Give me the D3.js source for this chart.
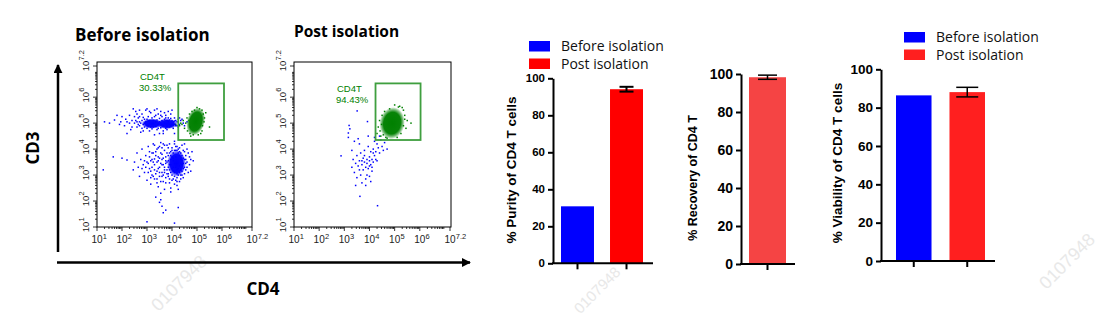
<!DOCTYPE html>
<html>
<head>
<meta charset="utf-8">
<script src="https://cdn.jsdelivr.net/npm/d3@7"></script>
<style>
  body { margin: 0; background: #fff; }
  svg { display: block; }
</style>
</head>
<body>
<svg id="fig" width="1108" height="322"></svg>
<script>
// ---------- Flow cytometry events (log10 units: [CD4, CD3]) ----------
const beforeBlueEvents = [
  // CD3+ band
  [1.3,5.05],[1.5,5.0],[1.7,5.12],[1.8,5.3],[1.9,4.95],[2.0,5.25],[2.1,4.9],[2.2,5.05],[2.2,4.6],[2.3,5.3],
  [2.35,4.75],[2.4,5.1],[2.45,5.55],[2.5,5.0],[2.55,5.45],[2.6,4.85],[2.6,5.35],[2.65,5.2],[2.7,5.05],[2.75,4.65],
  [2.8,5.35],[2.85,4.95],[2.9,5.15],[2.95,5.5],[3.0,4.8],[3.0,5.55],[3.05,5.25],[3.1,4.7],[3.15,5.4],[3.2,5.2],
  [3.25,4.85],[3.3,5.5],[3.3,4.55],[3.35,5.3],[3.4,4.75],[3.4,5.55],[3.45,5.35],[3.5,4.6],[3.55,5.45],[3.6,5.25],
  [3.65,4.7],[3.7,5.4],[3.75,5.3],[3.8,4.75],[3.85,5.2],[3.9,4.85],[3.95,5.35],[4.0,5.1],[4.05,4.8],[4.1,5.2],
  [4.1,4.6],[4.15,4.9],[4.2,5.05],[4.25,5.15],[4.3,4.95],[4.35,5.1],[4.45,5.0],[4.6,5.05],[2.7,4.9],[2.8,5.1],
  [2.9,4.85],[2.95,5.05],[3.0,5.15],[3.05,4.9],[3.1,5.1],[3.35,4.88],[3.4,5.12],[3.5,5.18],[3.55,4.82],[3.6,5.1],
  [3.65,4.9],[3.7,5.15],[3.85,5.05],[3.9,5.12],[3.95,4.92],[4.0,4.95],[4.05,5.05],[4.15,5.1],[2.75,5.0],[3.25,5.1],
  [3.45,4.8],[3.8,4.88],[4.1,4.95],[3.2,4.78],[2.85,5.22],[3.55,5.3],[3.75,4.8],[4.25,4.85],[2.55,5.1],[2.65,4.95],
  [2.4,4.85],[2.5,5.25],[2.6,5.05],[2.7,5.25],[2.8,4.8],[2.9,5.0],[3.0,4.92],[3.05,5.08],[3.15,4.85],[3.25,5.0],
  [3.3,5.25],[3.35,5.05],[3.45,4.95],[3.5,5.05],[3.6,4.95],[3.7,5.0],[3.75,5.2],[3.8,5.1],[3.9,4.95],[3.95,5.18],
  [4.05,4.92],[4.1,5.08],[4.2,4.9],[4.3,5.2],[4.4,5.15],[4.5,4.9],[2.3,5.0],[2.15,5.15],[1.95,5.05],[2.85,4.7],
  [3.65,4.6],[3.1,5.45],[3.85,5.45],[4.0,5.5],[2.7,5.5],
  // CD3 low / CD4 mid cluster
  [1.25,3.2],[1.65,3.7],[2.0,3.65],[2.2,3.58],[2.45,3.2],[2.5,3.5],[2.6,3.85],[2.65,3.3],[2.7,2.95],[2.75,3.6],
  [2.8,4.0],[2.85,3.4],[2.9,3.1],[2.95,3.75],[3.0,2.8],[3.0,3.5],[3.05,4.1],[3.1,3.25],[3.1,3.9],[3.15,2.65],
  [3.2,3.6],[3.2,3.0],[3.25,4.2],[3.3,3.4],[3.3,2.85],[3.35,3.75],[3.4,3.15],[3.4,4.0],[3.45,2.55],[3.45,3.55],
  [3.5,3.3],[3.5,2.95],[3.55,3.85],[3.55,4.25],[3.6,3.1],[3.6,3.6],[3.65,2.75],[3.65,3.4],[3.7,3.95],[3.7,3.2],
  [3.75,2.9],[3.75,3.7],[3.8,3.5],[3.8,4.15],[3.85,3.05],[3.85,3.3],[3.9,2.7],[3.9,3.85],[3.95,3.6],[3.95,2.5],
  [4.0,3.0],[4.0,4.05],[4.05,2.85],[4.05,3.3],[4.1,4.2],[4.1,2.65],[4.15,3.95],[4.2,2.9],[4.2,4.1],[4.25,3.0],
  [4.3,3.9],[4.3,2.75],[4.35,3.2],[4.4,3.75],[4.4,4.15],[4.45,3.45],[4.5,3.05],[4.5,3.9],[4.55,3.6],[4.6,4.0],
  [4.6,3.3],[4.7,3.7],[4.75,3.15],[4.85,3.55],[4.45,2.9],[4.2,2.6],[3.95,2.35],[3.55,2.3],[3.7,2.45],[4.25,2.45],
  [3.3,3.62],[3.45,3.25],[3.55,3.45],[3.6,3.8],[3.7,3.3],[3.75,3.55],[3.8,3.2],[3.85,3.75],[3.9,3.4],[3.95,3.1],
  [3.95,3.9],[4.0,3.25],[4.0,3.7],[4.05,3.55],[4.05,3.85],[4.1,3.1],[4.1,3.45],[4.15,3.7],[4.2,3.2],[4.25,3.85],
  [4.3,3.35],[4.35,3.6],[4.35,3.0],[4.4,3.4],[4.45,3.65],[4.5,3.3],[4.55,3.45],[3.4,3.5],[3.5,3.65],[3.65,3.0],
  [3.2,3.3],[3.15,3.55],[2.95,3.3],[3.35,3.05],[3.85,2.95],[4.3,4.05],[3.6,4.05],[3.25,3.85],[4.15,2.8],[4.4,3.15],
  [3.05,3.45],[3.1,3.7],[3.15,3.15],[3.2,3.85],[3.25,2.95],[3.25,3.5],[3.3,3.2],[3.35,3.9],[3.4,2.85],[3.45,3.7],
  [3.5,3.1],[3.5,4.1],[3.55,2.75],[3.6,3.4],[3.6,2.95],[3.65,3.65],[3.7,3.1],[3.7,4.15],[3.75,3.45],[3.75,2.7],
  [3.8,3.05],[3.8,3.85],[3.85,3.55],[3.85,4.05],[3.9,3.2],[3.9,2.85],[3.95,3.75],[3.95,3.4],[4.0,2.8],[4.0,3.95],
  [4.05,3.15],[4.05,3.65],[4.1,3.95],[4.1,2.95],[4.15,3.3],[4.15,4.1],[4.2,3.05],[4.2,3.95],[4.25,3.25],[4.25,4.0],
  [4.3,3.1],[4.3,3.75],[4.35,3.45],[4.35,3.85],[4.4,3.0],[4.4,3.55],[4.45,3.25],[4.45,3.95],[4.5,3.6],[4.55,3.2],
  [4.55,3.75],[4.6,3.5],[4.65,3.85],[4.65,3.1],[4.7,3.4],[4.75,3.6],[4.8,3.9],[4.2,2.75],[4.35,2.85],[3.45,4.05],
  [3.3,4.15],[3.05,3.1],[2.9,3.55],[2.8,3.25],[3.15,2.9],[3.4,2.7],[4.5,4.2],[4.1,4.3],[3.9,4.2],[3.65,4.2],
  // low CD3 tail
  [3.5,1.95],[3.55,2.05],[3.65,1.55],[3.75,1.65],[3.0,1.2],[4.1,1.15],[3.6,1.8],[4.25,1.75],[3.35,2.15]
];
const beforeGreenEvents = [
  [4.15,4.95],[4.25,5.05],[4.3,4.9],[4.35,5.0],[4.4,4.95],[4.45,5.1],[4.5,4.8],[4.55,5.0],[4.6,5.2],[4.62,4.7],
  [4.7,5.35],[4.72,4.6],[4.8,5.45],[4.85,4.55],[4.9,5.5],[5.0,5.6],[5.1,5.55],[5.15,4.6],[5.2,5.5],[5.2,4.7],
  [5.25,5.35],[5.28,5.05],[5.3,5.2],[5.35,5.4],[5.5,4.85],[4.75,4.5],[5.05,4.55],[4.68,5.1],[4.72,4.85],[5.22,4.9]
];
const postBlueEvents = [
  [2.87,3.74],[3.16,4.45],[3.16,4.62],[3.22,4.78],[3.19,4.91],[3.51,5.47],[3.92,5.06],[3.62,2.18],[4.32,1.82],
  [3.3,3.3],[3.35,3.6],[3.4,3.1],[3.45,3.45],[3.5,2.9],[3.5,3.75],[3.55,3.35],[3.6,4.2],[3.6,3.55],[3.65,3.0],
  [3.65,3.85],[3.7,3.4],[3.7,2.7],[3.75,3.65],[3.75,3.2],[3.8,3.95],[3.8,3.5],[3.85,3.3],[3.85,2.85],[3.9,3.6],
  [3.9,3.45],[3.95,4.1],[3.95,3.25],[4.0,3.55],[4.0,3.7],[4.05,3.4],[4.05,3.9],[4.1,3.6],[4.1,3.15],[4.15,4.0],
  [4.15,3.5],[4.2,3.75],[4.2,4.3],[4.25,3.9],[4.3,3.55],[4.3,4.2],[4.35,4.05],[4.4,3.85],[4.45,4.35],[4.5,4.1],
  [4.55,3.95],[4.6,4.25],[4.7,4.0],[4.0,2.95],[3.85,2.6],[4.05,2.75],[3.55,4.4],[3.4,4.3],[3.95,4.5],[4.2,4.45],
  [4.4,4.5],[3.3,3.95],[3.45,2.6],[3.6,3.2],[3.9,3.0],[4.1,3.3],[3.8,3.75],[4.0,3.35],[4.25,3.6],[3.7,3.55],[4.15,3.85]
];
const postGreenEvents = [
  [4.3,4.6],[4.35,4.85],[4.4,5.1],[4.45,4.5],[4.5,5.3],[4.55,4.55],[5.35,5.5],[5.4,5.3],[5.2,5.65],[5.3,5.6],
  [5.5,5.1],[5.65,5.0],[5.1,4.45],[5.25,4.6],[4.8,5.55],[5.0,5.7],[5.45,4.8],[4.6,5.45],[4.65,4.45],[5.35,4.9],
  [4.42,4.7],[4.48,4.95],[5.4,5.15],[4.7,4.42],[5.15,5.62]
];
// dense cores: [centre CD4, centre CD3, half-width, half-height, tilt deg, population]
const beforeCores = [
  [3.2, 4.98, 0.42, 0.2, 0, "other"],
  [3.8, 4.97, 0.42, 0.2, 0, "other"],
  [4.18, 3.45, 0.38, 0.52, 0, "other"],
  [4.95, 5.06, 0.36, 0.55, 15, "cd4t"]
];
const postCores = [
  [4.9, 5.0, 0.5, 0.62, 10, "cd4t"]
];
// CD4 T gate [CD4 min, CD4 max, CD3 min, CD3 max]
const gateBefore = [4.25, 6.08, 4.35, 6.53];
const gatePost = [4.24, 6.03, 4.35, 6.53];
const gateName = "CD4T";
const gatePctBefore = "30.33%";
const gatePctPost = "94.43%";
const logTicks = [1, 2, 3, 4, 5, 6, 7.2];

// ---------- Summary bar data ----------
const groups = ["Before isolation", "Post isolation"];
const purityValues = [30.8, 94.1];
const purityErrors = [0, 1.3];
const recoveryValues = [98.3];
const recoveryErrors = [1.1];
const viabilityValues = [86.4, 88.1];
const viabilityErrors = [0, 2.5];
const percentTicks = [0, 20, 40, 60, 80, 100];

const svg = d3.select("#fig");
svg.append("rect").attr("width", 1108).attr("height", 322).attr("fill", "#fff");

// faint watermark stamps
[[180, 284, 18], [598, 291, 15], [1068, 262, 18]].forEach(([cx, cy, fs]) => {
  svg.append("text")
    .attr("transform", `translate(${cx},${cy}) rotate(-45)`)
    .attr("text-anchor", "middle").attr("dominant-baseline", "middle")
    .attr("font-family", "Liberation Sans, Arial, sans-serif")
    .attr("font-size", fs).attr("fill", "#e8e8e8")
    .text("0107948");
});

const popColor = { other: "#0000ff", cd4t: "#008000" };

// soft density gradients for the dense cores
const defs = svg.append("defs");
Object.entries(popColor).forEach(([k, col]) => {
  const rg = defs.append("radialGradient").attr("id", "core-" + k);
  [[0, 1], [0.68, 0.97], [0.85, 0.5], [1, 0]].forEach(([o, a]) =>
    rg.append("stop").attr("offset", o).attr("stop-color", col).attr("stop-opacity", a));
});

function drawFlow(p) {
  const x = d3.scaleLinear().domain([1, 7.2]).range([p.left, p.right]);
  const y = d3.scaleLinear().domain([1, 7.2]).range([227, 66]);
  const g = svg.append("g");

  // frame
  g.append("rect")
    .attr("x", p.left).attr("y", 62)
    .attr("width", p.frameRight - p.left).attr("height", 227 - 62)
    .attr("fill", "none").attr("stroke", "#000").attr("stroke-width", 1);

  // individual events
  const dot = 1.5;
  g.append("g").selectAll("rect").data(p.blue).join("rect")
    .attr("x", d => x(d[0]) - dot / 2).attr("y", d => y(d[1]) - dot / 2)
    .attr("width", dot).attr("height", dot).attr("fill", popColor.other);
  g.append("g").selectAll("rect").data(p.green).join("rect")
    .attr("x", d => x(d[0]) - dot / 2).attr("y", d => y(d[1]) - dot / 2)
    .attr("width", dot).attr("height", dot).attr("fill", popColor.cd4t);

  // dense cores
  p.cores.forEach(([cx, cy, rx, ry, tilt, pop]) => {
    g.append("ellipse")
      .attr("transform", `translate(${x(cx)},${y(cy)}) rotate(${tilt})`)
      .attr("rx", x(cx + rx) - x(cx)).attr("ry", y(cy) - y(cy + ry))
      .attr("fill", `url(#core-${pop})`);
  });

  // gate
  const [gx0, gx1, gy0, gy1] = p.gate;
  g.append("rect")
    .attr("x", x(gx0)).attr("y", y(gy1))
    .attr("width", x(gx1) - x(gx0)).attr("height", y(gy0) - y(gy1))
    .attr("fill", "none").attr("stroke", "#3f9f3f").attr("stroke-width", 1.8);

  g.append("text").attr("x", p.labelX).attr("y", p.labelY)
    .attr("font-family", "Liberation Sans, Arial, sans-serif").attr("font-size", 9.5)
    .attr("fill", "#008000").text(gateName);
  g.append("text").attr("x", p.labelX - 1).attr("y", p.labelY + 11)
    .attr("font-family", "Liberation Sans, Arial, sans-serif").attr("font-size", 9.5)
    .attr("fill", "#008000").text(p.pct);

  // log minor + major ticks
  const minors = [];
  for (let k = 1; k < 7; k++) for (let m = 2; m <= 9; m++) {
    const v = k + Math.log10(m);
    if (v < 7.2) minors.push(v);
  }
  const tk = g.append("g").attr("stroke", "#000").attr("stroke-width", 0.8);
  minors.forEach(v => {
    tk.append("line").attr("x1", x(v)).attr("x2", x(v)).attr("y1", 227).attr("y2", 229);
    tk.append("line").attr("x1", p.left).attr("x2", p.left - 2).attr("y1", y(v)).attr("y2", y(v));
  });
  logTicks.forEach(v => {
    tk.append("line").attr("x1", x(v)).attr("x2", x(v)).attr("y1", 227).attr("y2", 231);
    tk.append("line").attr("x1", p.left).attr("x2", p.left - 4).attr("y1", y(v)).attr("y2", y(v));
  });

  const font = "Liberation Sans, Arial, sans-serif";
  logTicks.forEach(v => {
    const exp = Number.isInteger(v) ? String(v) : v.toFixed(1);
    // x labels
    g.append("text").attr("x", x(v)).attr("y", 243).attr("text-anchor", "middle")
      .attr("font-family", font).attr("font-size", 10).attr("fill", "#222").text("10");
    g.append("text").attr("x", x(v) + 5.8).attr("y", 238.5)
      .attr("font-family", font).attr("font-size", 7.5).attr("fill", "#222").text(exp);
    // y labels (rotated)
    const ty = g.append("g").attr("transform", `translate(${p.left - 8.5},${y(v)}) rotate(-90)`);
    ty.append("text").attr("x", 0).attr("y", 0).attr("text-anchor", "middle")
      .attr("font-family", font).attr("font-size", 9.5).attr("fill", "#222").text("10");
    ty.append("text").attr("x", 5.5).attr("y", -4.5)
      .attr("font-family", font).attr("font-size", 7.5).attr("fill", "#222").text(exp);
  });

  svg.append("text").attr("x", p.titleX).attr("y", p.titleY)
    .attr("font-family", "Open Sans, sans-serif").attr("font-weight", "bold")
    .attr("font-size", p.titleSize).attr("fill", "#000").text(p.title);
}

drawFlow({
  left: 97, right: 252, frameRight: 252,
  blue: beforeBlueEvents, green: beforeGreenEvents, cores: beforeCores,
  gate: gateBefore, pct: gatePctBefore, labelX: 140, labelY: 80,
  title: groups[0], titleX: 75, titleY: 41, titleSize: 17
});
drawFlow({
  left: 294, right: 450, frameRight: 451,
  blue: postBlueEvents, green: postGreenEvents, cores: postCores,
  gate: gatePost, pct: gatePctPost, labelX: 337, labelY: 92,
  title: groups[1], titleX: 294, titleY: 37, titleSize: 15.5
});

// axis arrows
defs.append("marker").attr("id", "arrowHead").attr("viewBox", "0 0 10 10")
  .attr("refX", 9).attr("refY", 5).attr("markerWidth", 3.6).attr("markerHeight", 3.6)
  .attr("markerUnits", "strokeWidth").attr("orient", "auto")
  .append("path").attr("d", "M0,0 L10,5 L0,10 z").attr("fill", "#000");
svg.append("line").attr("x1", 58).attr("y1", 252).attr("x2", 58).attr("y2", 65)
  .attr("stroke", "#000").attr("stroke-width", 2.5).attr("marker-end", "url(#arrowHead)");
svg.append("line").attr("x1", 57).attr("y1", 262.5).attr("x2", 470).attr("y2", 262.5)
  .attr("stroke", "#000").attr("stroke-width", 2.5).attr("marker-end", "url(#arrowHead)");
svg.append("text").attr("transform", "translate(39,148) rotate(-90)").attr("text-anchor", "middle")
  .attr("font-family", "Open Sans, sans-serif").attr("font-weight", "bold").attr("font-size", 17).text("CD3");
svg.append("text").attr("x", 263).attr("y", 295).attr("text-anchor", "middle")
  .attr("font-family", "Open Sans, sans-serif").attr("font-weight", "bold").attr("font-size", 17).text("CD4");

// ---------- bar charts ----------
const groupColor = { "Before isolation": "#0000ff", "Post isolation": "#ff0000" };

function drawBars(c) {
  const y = d3.scaleLinear().domain([0, 100]).range([c.yBottom, c.yTop]);
  const x = d3.scaleBand().domain(c.groups).range(c.barSpan).paddingInner(c.gap);
  const g = svg.append("g");
  const font = "Liberation Sans, Arial, sans-serif";

  g.selectAll("rect.bar").data(c.values).join("rect").attr("class", "bar")
    .attr("x", (d, i) => x(c.groups[i])).attr("width", x.bandwidth())
    .attr("y", d => y(d)).attr("height", d => c.yBottom - y(d))
    .attr("fill", (d, i) => c.colors[i]);

  c.errors.forEach((e, i) => {
    if (!e) return;
    const cx = x(c.groups[i]) + x.bandwidth() / 2;
    const v = c.values[i];
    const eg = g.append("g").attr("stroke", "#000").attr("stroke-width", c.errWidth);
    eg.append("line").attr("x1", cx).attr("x2", cx).attr("y1", y(v + e)).attr("y2", y(v - e));
    [v + e, v - e].forEach(t => eg.append("line")
      .attr("x1", cx - c.capHalf).attr("x2", cx + c.capHalf).attr("y1", y(t)).attr("y2", y(t)));
  });

  const axis = d3.axisLeft(y).tickValues(percentTicks).tickSize(5).tickSizeOuter(0).tickPadding(3);
  const ag = g.append("g").attr("transform", `translate(${c.axisX},0)`).call(axis);
  ag.select(".domain").attr("stroke-width", 2);
  ag.selectAll(".tick line").attr("stroke-width", 2);
  ag.selectAll(".tick text").attr("font-family", font).attr("font-weight", "bold")
    .attr("font-size", c.tickSize).attr("fill", "#000");

  g.append("line").attr("x1", c.axisX - 1).attr("x2", c.axisEnd)
    .attr("y1", c.yBottom).attr("y2", c.yBottom).attr("stroke", "#000").attr("stroke-width", 2);
  c.groups.forEach(k => {
    const cx = x(k) + x.bandwidth() / 2;
    g.append("line").attr("x1", cx).attr("x2", cx).attr("y1", c.yBottom).attr("y2", c.yBottom + 6)
      .attr("stroke", "#000").attr("stroke-width", 2);
  });

  g.append("text").attr("transform", `translate(${c.labelX},${c.labelY}) rotate(-90)`)
    .attr("text-anchor", "middle").attr("font-family", font).attr("font-weight", "bold")
    .attr("font-size", c.labelSize).attr("fill", "#000").text(c.label);

  if (c.legend) {
    const [lx, ly] = c.legend;
    groups.forEach((k, i) => {
      g.append("rect").attr("x", lx).attr("y", ly + i * 17.5).attr("width", 21).attr("height", 10.5)
        .attr("fill", c.colors[i]);
      g.append("text").attr("x", lx + 32).attr("y", ly + i * 17.5 + 10)
        .attr("font-family", "Open Sans, sans-serif").attr("font-size", 14).attr("fill", "#111").text(k);
    });
  }
}

drawBars({
  groups: groups, values: purityValues, errors: purityErrors,
  colors: [groupColor[groups[0]], groupColor[groups[1]]],
  yBottom: 263.3, yTop: 78.3, barSpan: [561, 643], gap: 0.327,
  axisX: 553, axisEnd: 653, tickSize: 11.5, errWidth: 2, capHalf: 7,
  label: "% Purity of CD4 T cells", labelX: 516, labelY: 170, labelSize: 13.5,
  legend: [529, 41]
});
drawBars({
  groups: [groups[1]], values: recoveryValues, errors: recoveryErrors,
  colors: ["#f54444"],
  yBottom: 264, yTop: 74, barSpan: [749, 786], gap: 0,
  axisX: 741, axisEnd: 795, tickSize: 14, errWidth: 1.5, capHalf: 9.5,
  label: "% Recovery of CD4 T", labelX: 697, labelY: 178, labelSize: 12.5,
  legend: null
});
drawBars({
  groups: groups, values: viabilityValues, errors: viabilityErrors,
  colors: ["#0000ff", "#ff1f1f"],
  yBottom: 261, yTop: 69.3, barSpan: [896, 985], gap: 0.336,
  axisX: 881, axisEnd: 995, tickSize: 13.5, errWidth: 1.5, capHalf: 11,
  label: "% Viability of CD4 T cells", labelX: 842, labelY: 163, labelSize: 13.5,
  legend: [904, 32]
});
</script>
</body>
</html>
